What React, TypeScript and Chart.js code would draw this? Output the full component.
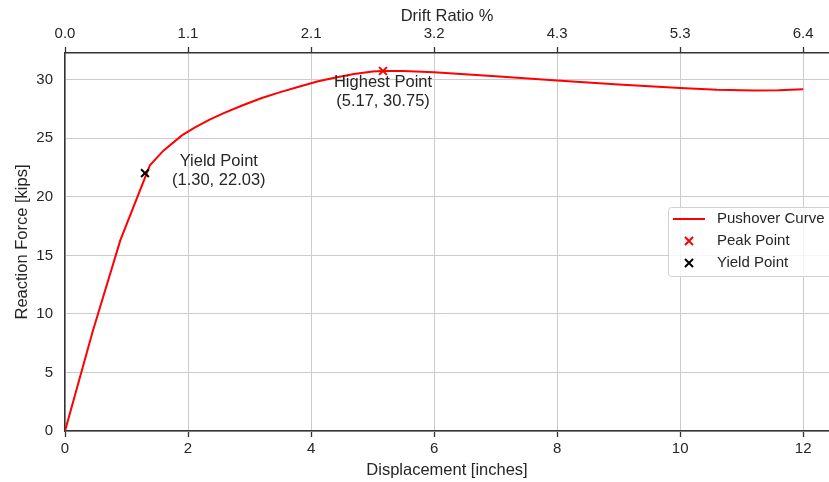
import React, { useEffect, useRef } from "react";
import { Chart, registerables } from "chart.js";

Chart.register(...registerables);

// ---- data ----
const curveX = [0, 0.45, 0.9, 1.38, 1.6, 1.9, 2.1, 2.35, 2.6, 2.9, 3.2, 3.5, 3.8, 4.1, 4.4, 4.7, 5.0, 5.17, 5.5, 6.0, 7.0, 8.0, 9.0, 10.0, 10.6, 11.2, 11.6, 12.0];
const curveY = [0, 8.5, 16.3, 22.7, 23.95, 25.25, 25.9, 26.6, 27.2, 27.85, 28.45, 28.95, 29.4, 29.85, 30.2, 30.5, 30.7, 30.75, 30.76, 30.65, 30.3, 29.94, 29.6, 29.3, 29.15, 29.09, 29.1, 29.2];
const peakPoint = { x: 5.17, y: 30.75 };
const yieldPoint = { x: 1.3, y: 22.03 };
const xTicks = [0, 2, 4, 6, 8, 10, 12];
const driftLabels = ["0.0", "1.1", "2.1", "3.2", "4.3", "5.3", "6.4"];
const yTicks = [0, 5, 10, 15, 20, 25, 30];
const seriesLabels = ["Pushover Curve", "Peak Point", "Yield Point"];
const annotationLines = [
  ["Yield Point", "(1.30, 22.03)"],
  ["Highest Point", "(5.17, 30.75)"],
];
const annotationAnchors = [
  { x: 2.5, y: 22.2 },
  { x: 5.17, y: 28.95 },
];
const xMax = 12.42;
const yMax = 32.29;

const FONT = 'Arial, "Liberation Sans", sans-serif';
const TEXT = "#262626";
const SPINE = "#333333";
const GRID = "#cccccc";

const annotationPlugin = {
  id: "annot",
  afterDatasetsDraw(chart: any) {
    const { ctx, scales } = chart;
    ctx.save();
    ctx.font = `16.5px ${FONT}`;
    ctx.fillStyle = TEXT;
    ctx.textAlign = "center";
    ctx.textBaseline = "middle";
    annotationLines.forEach((lines, i) => {
      const cx = scales.x.getPixelForValue(annotationAnchors[i].x);
      const cy = scales.y.getPixelForValue(annotationAnchors[i].y);
      const lh = 19;
      lines.forEach((t, j) => {
        ctx.fillText(t, cx, cy + (j - (lines.length - 1) / 2) * lh);
      });
    });
    ctx.restore();
  },
};

const legendPlugin = {
  id: "customLegend",
  afterDraw(chart: any) {
    const { ctx } = chart;
    const ds = chart.data.datasets;
    const bx = 668, by = 207, bw = 170, bh = 69;
    ctx.save();
    ctx.fillStyle = "rgba(255,255,255,0.8)";
    ctx.strokeStyle = "#d0d0d0";
    ctx.lineWidth = 1;
    ctx.beginPath();
    (ctx as any).roundRect(bx + 0.5, by + 0.5, bw, bh, 3);
    ctx.fill();
    ctx.stroke();
    ctx.font = `15px ${FONT}`;
    ctx.textBaseline = "middle";
    ctx.textAlign = "left";
    seriesLabels.forEach((lab, i) => {
      const y = by + 12 + i * 22;
      const d = ds[i];
      ctx.strokeStyle = d.borderColor;
      ctx.lineWidth = 2;
      ctx.beginPath();
      if (i === 0) {
        ctx.moveTo(673, y);
        ctx.lineTo(705, y);
      } else {
        const r = 4;
        ctx.moveTo(689 - r, y - r);
        ctx.lineTo(689 + r, y + r);
        ctx.moveTo(689 - r, y + r);
        ctx.lineTo(689 + r, y - r);
      }
      ctx.stroke();
      ctx.fillStyle = TEXT;
      ctx.fillText(lab, 717, y);
    });
    ctx.restore();
  },
};

export default function App() {
  const ref = useRef<HTMLCanvasElement>(null);
  useEffect(() => {
    if (!ref.current) return;
    const chart = new Chart(ref.current, {
      type: "scatter",
      data: {
        datasets: [
          {
            type: "line",
            label: seriesLabels[0],
            data: curveX.map((x, i) => ({ x, y: curveY[i] })),
            borderColor: "#ff0000",
            borderWidth: 2,
            pointRadius: 0,
            tension: 0,
            order: 2,
          } as any,
          {
            label: seriesLabels[1],
            data: [peakPoint],
            borderColor: "#ff0000",
            backgroundColor: "#ff0000",
            pointStyle: "crossRot",
            pointRadius: 5.5,
            borderWidth: 2,
            order: 1,
          },
          {
            label: seriesLabels[2],
            data: [yieldPoint],
            borderColor: "#000000",
            backgroundColor: "#000000",
            pointStyle: "crossRot",
            pointRadius: 5.5,
            borderWidth: 2,
            order: 1,
          },
        ],
      },
      options: {
        responsive: false,
        animation: false,
        layout: { padding: 0, autoPadding: false },
        plugins: { legend: { display: false }, tooltip: { enabled: false } },
        scales: {
          x: {
            type: "linear",
            position: "bottom",
            min: 0,
            max: xMax,
            afterFit: (s: any) => { s.height = 51; s.paddingLeft = 0; s.paddingRight = 0; },
            afterBuildTicks: (s: any) => { s.ticks = xTicks.map((v) => ({ value: v })); },
            ticks: { font: { size: 15, family: FONT }, color: TEXT, padding: 3, maxRotation: 0, includeBounds: false },
            grid: { color: GRID, lineWidth: 1, tickColor: SPINE, tickLength: 6, tickWidth: 1.3 },
            border: { color: SPINE, width: 1.5 },
            title: { display: true, text: "Displacement [inches]", font: { size: 16.5, family: FONT }, color: TEXT, padding: { top: 4, bottom: 2 } },
          },
          x2: {
            type: "linear",
            position: "top",
            min: 0,
            max: xMax,
            afterFit: (s: any) => { s.height = 53; s.paddingLeft = 0; s.paddingRight = 0; },
            afterBuildTicks: (s: any) => { s.ticks = xTicks.map((v) => ({ value: v })); },
            ticks: {
              font: { size: 15, family: FONT },
              color: TEXT,
              padding: 4,
              maxRotation: 0,
              includeBounds: false,
              callback: (_v: any, i: number) => driftLabels[i],
            },
            grid: { drawOnChartArea: false, tickColor: SPINE, tickLength: 6, tickWidth: 1.3 },
            border: { color: SPINE, width: 1.5 },
            title: { display: true, text: "Drift Ratio %", font: { size: 16.5, family: FONT }, color: TEXT, padding: { top: 7, bottom: 4 } },
          },
          y: {
            type: "linear",
            min: 0,
            max: yMax,
            afterFit: (s: any) => { s.width = 65; s.paddingTop = 0; s.paddingBottom = 0; },
            afterBuildTicks: (s: any) => { s.ticks = yTicks.map((v) => ({ value: v })); },
            ticks: { font: { size: 15, family: FONT }, color: TEXT, padding: 12, includeBounds: false },
            grid: { color: GRID, lineWidth: 1, drawTicks: false },
            border: { color: SPINE, width: 1.5 },
            title: { display: true, text: "Reaction Force [kips]", font: { size: 16.5, family: FONT }, color: TEXT, padding: { top: 13, bottom: 4 } },
          },
        },
      },
      plugins: [annotationPlugin, legendPlugin],
    } as any);
    return () => chart.destroy();
  }, []);
  return (
    <div style={{ position: "fixed", left: 0, top: 0, width: 829, height: 482, background: "#fff" }}>
      <canvas ref={ref} width={829} height={482} style={{ display: "block" }} />
    </div>
  );
}
